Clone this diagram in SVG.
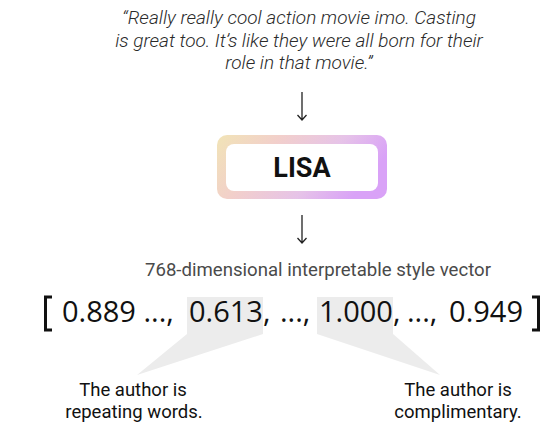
<svg xmlns="http://www.w3.org/2000/svg" width="545" height="423" viewBox="0 0 545 423">
<defs>
<linearGradient id="g" x1="0" y1="0" x2="1" y2="0.3">
<stop offset="0" stop-color="#f1e4b6"/>
<stop offset="0.35" stop-color="#f2cfcb"/>
<stop offset="0.7" stop-color="#e6c3e8"/>
<stop offset="1" stop-color="#d9a2f7"/>
</linearGradient>
<style>
.q{font-family:Roboto,"Liberation Sans",sans-serif;font-style:italic;font-weight:300;font-size:19px;fill:#2a2a2a;text-anchor:middle}
.sub{font-family:Roboto,"Liberation Sans",sans-serif;font-size:18.6px;fill:#4a4a4a}
.vec{font-family:"Open Sans","Noto Sans",sans-serif;font-size:29px;fill:#111}
.lab{font-family:Roboto,"Liberation Sans",sans-serif;font-size:18.5px;fill:#111;text-anchor:middle}
.hl{fill:#ececec}
.arr{stroke:#222;stroke-width:1.3;fill:none}
.br{fill:none;stroke:#111;stroke-width:3}
</style>
</defs>
<rect width="545" height="423" fill="#fff"/>
<g id="quote">
<text class="q" x="299" y="24">“Really really cool action movie imo. Casting</text>
<text class="q" x="299" y="47">is great too. It’s like they were all born for their</text>
<text class="q" x="299" y="69">role in that movie.”</text>
</g>
<g id="connectors">
<path class="arr" d="M302 92 V120 M297.5 115 L302 120 L306.5 115"/>
<path class="arr" d="M302 215 V243 M297.5 238 L302 243 L306.5 238"/>
</g>
<g id="lisa">
<rect x="217" y="135" width="170" height="64" rx="10" fill="url(#g)"/>
<rect x="226" y="144" width="152" height="47" rx="8" fill="#fff"/>
<text x="302" y="177" font-family="Roboto,'Liberation Sans',sans-serif" font-weight="700" font-size="27" fill="#111" text-anchor="middle">LISA</text>
</g>
<g id="subtitle">
<text class="sub" x="318" y="276" text-anchor="middle">768-dimensional interpretable style vector</text>
</g>
<g id="vector">
<polygon class="hl" points="187,297 263,297 263,334 137,375 187,334"/>
<polygon class="hl" points="317,297 393,297 393,334 440,375 317,334"/>
<path class="br" d="M52 297 H45.5 V330 H52"/>
<path class="br" d="M532 297 H538.5 V330 H532"/>
<text class="vec" y="322"><tspan x="62">0.889 ...,</tspan><tspan x="189">0.613,</tspan><tspan x="280">...,</tspan><tspan x="319">1.000,</tspan><tspan x="407">...,</tspan></text>
<text class="vec" y="322" x="523" text-anchor="end">0.949</text>
</g>
<g id="label-left">
<text class="lab" x="133" y="396">The author is</text>
<text class="lab" x="134" y="418">repeating words.</text>
</g>
<g id="label-right">
<text class="lab" x="458" y="396">The author is</text>
<text class="lab" x="458" y="418">complimentary.</text>
</g>
</svg>
